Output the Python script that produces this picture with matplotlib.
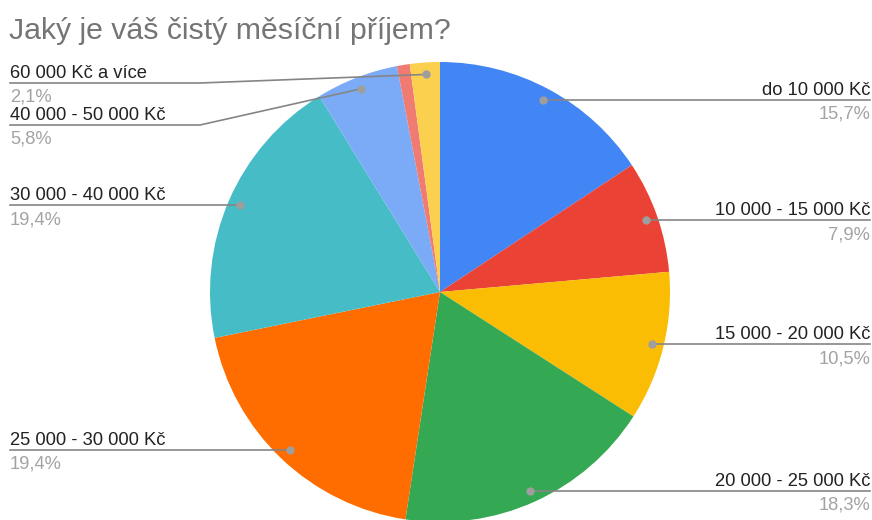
import matplotlib
matplotlib.use("Agg")
import matplotlib.pyplot as plt
import numpy as np

# Net monthly income survey shares (%)
categories = [
    "do 10 000 Kč",
    "10 000 - 15 000 Kč",
    "15 000 - 20 000 Kč",
    "20 000 - 25 000 Kč",
    "25 000 - 30 000 Kč",
    "30 000 - 40 000 Kč",
    "40 000 - 50 000 Kč",
    "50 000 - 60 000 Kč",
    "60 000 Kč a více",
]
shares = [15.7, 7.9, 10.5, 18.3, 19.4, 19.4, 5.8, 0.9, 2.1]
colors = ["#4285F4", "#EA4335", "#FBBC04", "#34A853", "#FF6D01",
          "#46BDC6", "#7BAAF7", "#F07B72", "#FCD04F"]
title = "Jaký je váš čistý měsíční příjem?"

W, H = 872, 520
plt.rcParams["font.family"] = ["Liberation Sans", "DejaVu Sans"]

fig = plt.figure(figsize=(W / 100, H / 100), dpi=100)
ax = fig.add_axes([0, 0, 1, 1])

cx, cy, R = 440, H - 292, 230
wedges, _ = ax.pie(shares, colors=colors, startangle=90, counterclock=False,
                   center=(cx, cy), radius=R,
                   wedgeprops=dict(linewidth=0))
ax.set_xlim(0, W)
ax.set_ylim(0, H)
ax.set_aspect("equal")
ax.axis("off")

line_c = "#858585"
dot_c = "#9e9e9e"
txt_c = "#222222"
pct_c = "#a3a3a3"
fs = 13.2

# bent leaders: y of the horizontal run, in px from top
left_elbow = {8: 83, 6: 125}
elbow_x = 200
r_dot = R * 218 / 230

for i, (w, cat, v) in enumerate(zip(wedges, categories, shares)):
    if v < 1.0:
        continue
    ang = np.deg2rad((w.theta1 + w.theta2) / 2)
    dx, dy = cx + r_dot * np.cos(ang), cy + r_dot * np.sin(ang)
    pct = f"{v:.1f}".replace(".", ",") + "%"
    right = np.cos(ang) > 0
    if right:
        ly = dy
        ax.plot([dx, 870], [ly, ly], color=line_c, lw=1.2, zorder=3)
        ax.text(870, ly + 5, cat, ha="right", va="baseline", fontsize=fs, color=txt_c)
        ax.text(870, ly - 6, pct, ha="right", va="top", fontsize=fs, color=pct_c)
    else:
        if i in left_elbow:
            ly = H - left_elbow[i]
            ax.plot([dx, elbow_x, 10], [dy, ly, ly], color=line_c, lw=1.2, zorder=3)
        else:
            ly = dy
            ax.plot([dx, 10], [ly, ly], color=line_c, lw=1.2, zorder=3)
        ax.text(10, ly + 5, cat, ha="left", va="baseline", fontsize=fs, color=txt_c)
        ax.text(10, ly - 6, pct, ha="left", va="top", fontsize=fs, color=pct_c)
    ax.plot(dx, dy, "o", ms=5, color=dot_c, zorder=4)

ax.text(9, H - 39, title, ha="left", va="baseline", fontsize=21.8, color="#757575")

fig.savefig("out.png", dpi=100)
